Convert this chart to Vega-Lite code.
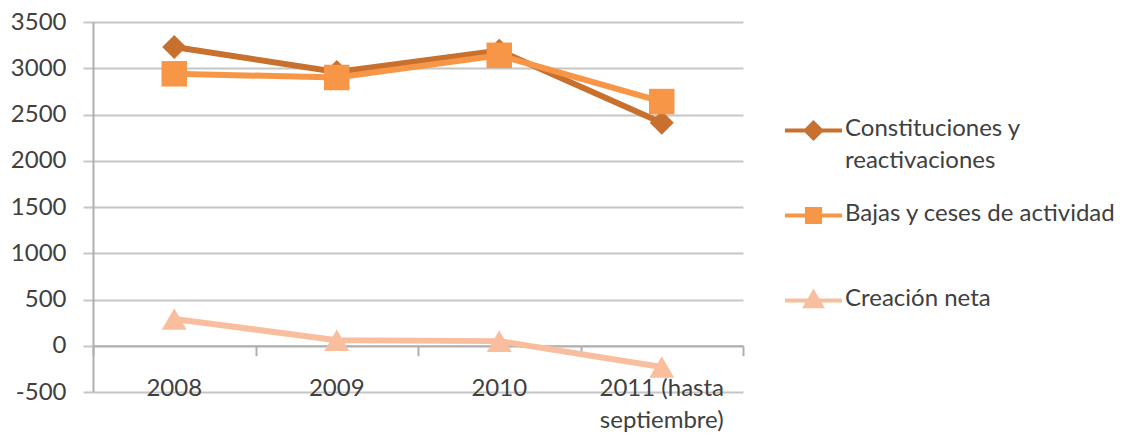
{
  "$schema": "https://vega.github.io/schema/vega-lite/v6.json",
  "autosize": {"type": "none"},
  "padding": {"left": 93, "top": 22, "right": 397, "bottom": 46},
  "width": 650,
  "height": 370,
  "background": "white",
  "config": {
    "view": {"stroke": null},
    "font": "Lato",
    "axis": {"labelFont": "Lato", "labelColor": "#404040", "labelFontSize": 24}
  },
  "data": {
    "values": [
      {"anio": "2008", "serie": "Constituciones y reactivaciones", "valor": 3230},
      {"anio": "2009", "serie": "Constituciones y reactivaciones", "valor": 2960},
      {"anio": "2010", "serie": "Constituciones y reactivaciones", "valor": 3190},
      {"anio": "2011 (hasta septiembre)", "serie": "Constituciones y reactivaciones", "valor": 2410},
      {"anio": "2008", "serie": "Bajas y ceses de actividad", "valor": 2940},
      {"anio": "2009", "serie": "Bajas y ceses de actividad", "valor": 2900},
      {"anio": "2010", "serie": "Bajas y ceses de actividad", "valor": 3140},
      {"anio": "2011 (hasta septiembre)", "serie": "Bajas y ceses de actividad", "valor": 2640},
      {"anio": "2008", "serie": "Creación neta", "valor": 290},
      {"anio": "2009", "serie": "Creación neta", "valor": 60},
      {"anio": "2010", "serie": "Creación neta", "valor": 50},
      {"anio": "2011 (hasta septiembre)", "serie": "Creación neta", "valor": -230}
    ]
  },
  "resolve": {"axis": {"x": "independent"}},
  "layer": [
    {
      "mark": {"type": "line", "strokeWidth": 6},
      "encoding": {
        "x": {
          "field": "anio", "type": "nominal", "sort": null,
          "scale": {"paddingInner": 0, "paddingOuter": 0},
          "axis": {
            "title": null, "orient": "bottom", "domain": false, "ticks": false, "grid": false,
            "labelAngle": 0, "labelPadding": -16, "labelBaseline": "top",
            "labelLineHeight": 32, "labelFontSize": 24,
            "labelExpr": "datum.value == '2011 (hasta septiembre)' ? ['2011 (hasta', 'septiembre)'] : datum.label"
          }
        },
        "y": {
          "field": "valor", "type": "quantitative",
          "scale": {"domain": [-500, 3500], "nice": false},
          "axis": {
            "title": null, "values": [-500, 0, 500, 1000, 1500, 2000, 2500, 3000, 3500],
            "labelExpr": "'' + datum.value",
            "grid": true, "gridColor": "#C6C6C6", "gridWidth": 2,
            "domain": true, "domainColor": "#B0B0B0", "domainWidth": 2,
            "ticks": true, "tickSize": 10, "tickColor": "#C6C6C6", "tickWidth": 2,
            "labelPadding": 17, "labelFontSize": 24
          }
        },
        "color": {
          "field": "serie", "type": "nominal",
          "scale": {
            "domain": ["Constituciones y reactivaciones", "Bajas y ceses de actividad", "Creación neta"],
            "range": ["#C8702E", "#F79646", "#F9BE9E"]
          },
          "legend": {
            "title": null, "orient": "none", "legendX": 690, "legendY": 78,
            "symbolSize": 3249, "labelFontSize": 24, "labelFont": "Lato", "labelColor": "#404040",
            "labelLimit": 400, "labelOffset": 1, "rowPadding": 12,
            "labelBaseline": "top",
            "labelExpr": "datum.value == 'Constituciones y reactivaciones' ? ['Constituciones y', 'reactivaciones'] : [datum.label, ' ']",
            "encode": {
              "labels": {"update": {"dy": {"value": -14}, "lineHeight": {"value": 32}}},
              "symbols": {
                "update": {
                  "shape": {"signal": "datum.value === 'Constituciones y reactivaciones' ? 'M-1,0H1M0,-0.27L0.27,0L0,0.27L-0.27,0Z' : datum.value === 'Bajas y ceses de actividad' ? 'M-1,0H1M-0.23,-0.23H0.23V0.23H-0.23Z' : 'M-1,0H1M0,-0.28L0.28,0.2H-0.28Z'"},
                  "fill": {"signal": "scale('color', datum.value)"},
                  "stroke": {"signal": "scale('color', datum.value)"},
                  "strokeWidth": {"value": 4},
                  "opacity": {"value": 1},
                  "fillOpacity": {"value": 1}
                }
              }
            }
          }
        }
      }
    },
    {
      "mark": {"type": "point", "filled": true, "size": 580, "opacity": 1, "shape": "diamond"},
      "transform": [{"filter": "datum.serie == 'Constituciones y reactivaciones'"}],
      "encoding": {
        "x": {
          "field": "anio", "type": "nominal", "sort": null,
          "axis": {
            "title": null, "orient": "bottom", "labels": false, "grid": false, "offset": -46.25,
            "domain": true, "domainColor": "#B0B0B0", "domainWidth": 2,
            "ticks": true, "tickBand": "extent", "tickSize": 10, "tickColor": "#B0B0B0", "tickWidth": 2
          }
        },
        "y": {"field": "valor", "type": "quantitative"},
        "color": {"field": "serie", "type": "nominal"}
      }
    },
    {
      "mark": {"type": "point", "filled": true, "size": 650, "opacity": 1, "shape": "square"},
      "transform": [{"filter": "datum.serie == 'Bajas y ceses de actividad'"}],
      "encoding": {
        "x": {"field": "anio", "type": "nominal", "sort": null, "axis": null},
        "y": {"field": "valor", "type": "quantitative"},
        "color": {"field": "serie", "type": "nominal"}
      }
    },
    {
      "mark": {"type": "point", "filled": true, "size": 620, "opacity": 1, "shape": "triangle-up"},
      "transform": [{"filter": "datum.serie == 'Creación neta'"}],
      "encoding": {
        "x": {"field": "anio", "type": "nominal", "sort": null, "axis": null},
        "y": {"field": "valor", "type": "quantitative"},
        "color": {"field": "serie", "type": "nominal"}
      }
    }
  ]
}
